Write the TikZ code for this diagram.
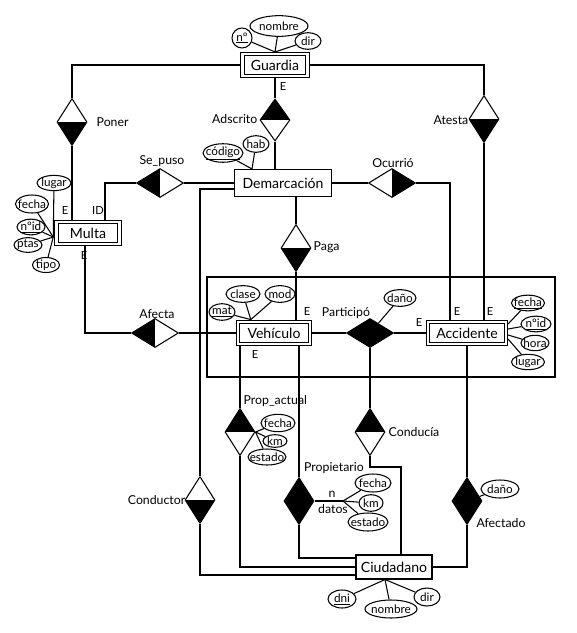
\documentclass[tikz,border=0pt]{standalone}
\usepackage{fontspec}
\setmainfont{Lato}
\usepackage{tikz}
\usetikzlibrary{
  calc,              % Offsets from anchors
  shapes.geometric   % Diamonds and ellipses
}

\tikzset{
  ent/.style={draw, line width=0.9pt, inner sep=0pt, font=\fontsize{12}{14}\selectfont},
  weak/.style={ent, double, double distance=2.2pt, line width=0.8pt, outer sep=1.9pt},
  attr/.style={ellipse, draw, line width=0.9pt, inner xsep=-4pt, inner ysep=0pt,
    minimum height=0.5cm, minimum width=#1, font=\fontsize{10}{12}\selectfont},
  attr/.default=0.9cm,
  rel/.style={diamond, draw, line width=0.9pt, inner sep=0pt, minimum width=0.9cm, minimum height=1.41cm},
  relh/.style={rel, minimum width=1.41cm, minimum height=0.87cm},
  topblack/.style={path picture={\fill (path picture bounding box.north west) rectangle (path picture bounding box.east);}},
  botblack/.style={path picture={\fill (path picture bounding box.west) rectangle (path picture bounding box.south east);}},
  leftblack/.style={path picture={\fill (path picture bounding box.north west) rectangle (path picture bounding box.south);}},
  rightblack/.style={path picture={\fill (path picture bounding box.north) rectangle (path picture bounding box.south east);}},
  lbl/.style={font=\fontsize{10.5}{12}\selectfont, inner sep=1pt},
  card/.style={font=\fontsize{9.5}{11}\selectfont, inner sep=0pt}
}

\begin{document}
\begin{tikzpicture}[x=0.03cm, y=-0.03cm, line width=0.9pt]
        \useasboundingbox (0,0) rectangle (576,633);

        % Entities
        \node[weak, minimum width=1.95cm, minimum height=0.65cm] (guardia) at (275,65) {Guardia};
        \node[weak, minimum width=1.89cm, minimum height=0.66cm] (multa) at (88,233) {Multa};
        \node[ent, minimum width=2.91cm, minimum height=0.81cm] (demarc) at (283,183) {Demarcación};
        \node[weak, minimum width=2.16cm, minimum height=0.67cm] (vehiculo) at (274,333) {Vehículo};
        \node[weak, minimum width=2.33cm, minimum height=0.67cm] (accid) at (467,333) {Accidente};
        \node[ent, minimum width=2.28cm, minimum height=0.72cm] (ciudad) at (394,567) {Ciudadano};

        % Aggregation box
        \draw (207,277) rectangle (555,377);

        % Relationships
        \node[rel, botblack] (poner) at (72,122) {};
        \node[rel, topblack, minimum height=1.26cm] (adscrito) at (275,120) {};
        \node[rel, botblack] (atesta) at (484,119) {};
        \node[relh, leftblack] (sepuso) at (160,183) {};
        \node[relh, rightblack] (ocurrio) at (392,183) {};
        \node[rel, botblack] (paga) at (296,248) {};
        \node[relh, leftblack] (afecta) at (155,333) {};
        \node[relh, fill] (particip) at (370,333) {};
        \node[rel, topblack] (propact) at (240,432) {};
        \node[rel, topblack] (conducia) at (370,432) {};
        \node[rel, botblack] (conductor) at (200,500) {};
        \node[rel, fill] (propiet) at (299,501) {};
        \node[rel, fill] (afectado) at (467,501) {};

        % Relationship names
        \node[lbl, anchor=west] (lponer) at (95,122) {Poner};
        \node[lbl, anchor=east] (ladscrito) at (259,119) {Adscrito};
        \node[lbl, anchor=east] (latesta) at (470,120) {Atesta};
        \node[lbl] (lsepuso) at (162,161) {Se\_puso};
        \node[lbl] (locurrio) at (393,163) {Ocurrió};
        \node[lbl, anchor=west] (lpaga) at (312,247) {Paga};
        \node[lbl] (lafecta) at (157,314) {Afecta};
        \node[lbl] (lparticip) at (346,313) {Participó};
        \node[lbl, anchor=west] (lpropact) at (242,401) {Prop\_actual};
        \node[lbl, anchor=west] (lconducia) at (387,432) {Conducía};
        \node[lbl] (lpropiet) at (334,468) {Propietario};
        \node[lbl, anchor=east] (lconductor) at (187,500) {Conductor};
        \node[lbl] (lafectado) at (501,523) {Afectado};

        % Dependency marks
        \node[card] (eguardia) at (283,87) {E};
        \node[card] (emulta) at (65,211) {E};
        \node[card] (idmulta) at (98,211) {ID};
        \node[card] (emultab) at (84,256) {E};
        \node[card] (evehic) at (307,312) {E};
        \node[card] (evehicb) at (255,355) {E};
        \node[card] (eaccid) at (419,323) {E};
        \node[card] (eaccida) at (457,312) {E};
        \node[card] (eaccidb) at (490,312) {E};

        % Attributes
        \node[attr=1.74cm, minimum height=0.62cm] (gnombre) at (279,26) {nombre};
        \node[attr=0.6cm, minimum height=0.6cm] (gnum) at (242,38) {\underline{nº}};
        \node[attr=0.78cm] (gdir) at (308,41) {dir};

        \node[attr=1.02cm, minimum height=0.44cm] (mlugar) at (54,183) {lugar};
        \node[attr=0.99cm, minimum height=0.54cm] (mfecha) at (32,204) {fecha};
        \node[attr=0.84cm, minimum height=0.44cm] (mnid) at (31,227) {\underline{nºid}};
        \node[attr=0.84cm, minimum height=0.44cm] (mptas) at (28,245) {ptas};
        \node[attr=0.81cm, minimum height=0.44cm] (mtipo) at (46,265) {tipo};

        \node[attr=1.2cm, minimum height=0.44cm] (dcodigo) at (223,153) {\underline{código}};
        \node[attr=0.78cm] (dhab) at (256,144) {hab};

        \node[attr=0.78cm] (vmat) at (222,312) {\underline{mat}};
        \node[attr=1.02cm] (vclase) at (243,294) {clase};
        \node[attr=0.9cm] (vmod) at (280,294) {mod};

        \node[attr=0.99cm, minimum height=0.46cm] (afecha) at (528,303) {\underline{fecha}};
        \node[attr=0.9cm, minimum height=0.46cm] (anid) at (536,324) {\underline{nºid}};
        \node[attr=0.84cm, minimum height=0.46cm] (ahora) at (535,343) {hora};
        \node[attr=0.99cm, minimum height=0.46cm] (alugar) at (528,362) {lugar};

        \node[attr=0.96cm] (pdano) at (400,298) {daño};

        \node[attr=1.02cm, minimum height=0.52cm] (pafecha) at (278,423) {fecha};
        \node[attr=0.72cm, minimum height=0.38cm] (pakm) at (275,441) {km};
        \node[attr=1.14cm, minimum height=0.48cm] (paestado) at (267,457) {estado};

        \coordinate (pjun) at (343,501);
        \node[lbl] (nprop) at (332,494) {n};
        \node[lbl] (dprop) at (333,509) {datos};
        \node[attr=1.08cm, minimum height=0.54cm] (pfecha) at (373,483) {fecha};
        \node[attr=0.72cm] (pkm) at (371,503) {km};
        \node[attr=1.2cm, minimum height=0.54cm] (pestado) at (368,522) {estado};

        \node[attr=1.14cm, minimum height=0.54cm] (adano) at (500,489) {daño};

        \node[attr=0.84cm, minimum height=0.54cm] (cdni) at (342,599) {\underline{dni}};
        \node[attr=1.56cm, minimum height=0.54cm] (cnombre) at (391,609) {nombre};
        \node[attr=0.78cm, minimum height=0.54cm] (cdir) at (427,597) {dir};

        % Attribute links
        \draw (gnombre) -- (guardia.north);
        \draw (gnum) -- (guardia.north);
        \draw (gdir) -- (guardia.north);

        \coordinate (mhub) at ($(multa.west)+(-1,4)$);
        \foreach \a in {mlugar, mfecha, mnid, mptas, mtipo}
          \draw (\a) -- (mhub);

        \coordinate (dhub) at ($(demarc.north west)+(18,0)$);
        \draw (dcodigo) -- (dhub);
        \draw (dhab) -- (dhub);

        \coordinate (vhub) at ($(vehiculo.north west)+(15,0)$);
        \foreach \a in {vmat, vclase, vmod}
          \draw (\a) -- (vhub);

        \draw (afecha) -- ($(accid.east)+(0,-9)$);
        \draw (anid) -- ($(accid.east)+(0,-4)$);
        \draw (ahora) -- ($(accid.east)+(0,2)$);
        \draw (alugar) -- ($(accid.east)+(0,6)$);

        \foreach \a in {pafecha, pakm, paestado}
          \draw (\a) -- (propact.east);

        \draw (propiet) -- (pjun);
        \foreach \a in {pfecha, pkm, pestado}
          \draw (\a) -- (pjun);

        \coordinate (chub) at ($(ciudad.south)+(-9,0)$);
        \foreach \a in {cdni, cnombre, cdir}
          \draw (\a) -- (chub);

        % Relationship links
        \draw (guardia) -- (guardia -| poner) -- (poner);
        \draw (guardia) -- (guardia -| atesta) -- (atesta);
        \draw (guardia) -- (adscrito);
        \draw (adscrito) -- (adscrito |- demarc.north);
        \draw (poner) -- (poner |- multa.north);
        \draw (105,0 |- multa.north) |- (sepuso);
        \draw (sepuso) -- (demarc);
        \draw (85,0 |- multa.south) |- (afecta);
        \draw (afecta) -- (vehiculo);
        \draw (demarc) -- (ocurrio);
        \draw (ocurrio) -| (450,0 |- accid.north);
        \draw (atesta) -- (atesta |- accid.north);
        \draw (demarc.south -| paga) -- (paga);
        \draw (paga) -- (paga |- vehiculo.north);
        \draw (vehiculo) -- (particip);
        \draw (particip) -- (accid);
        \draw (particip) -- (pdano);
        \draw (particip) -- (conducia);
        \coordinate (cbend) at (401,467);
        \draw (conducia) |- (cbend) -- (cbend |- ciudad.north);
        \draw (propact |- vehiculo.south) -- (propact);
        \draw (propact) |- (ciudad);
        \draw (propiet |- vehiculo.south) -- (propiet);
        \draw (propiet) |- (ciudad.west |- 0,558);
        \draw (demarc.west |- 0,189) -| (conductor);
        \draw (conductor) |- (ciudad.west |- 0,575);
        \draw (accid) -- (afectado);
        \draw (afectado) |- (ciudad);
        \draw (afectado) -- (adano);
\end{tikzpicture}
\end{document}
